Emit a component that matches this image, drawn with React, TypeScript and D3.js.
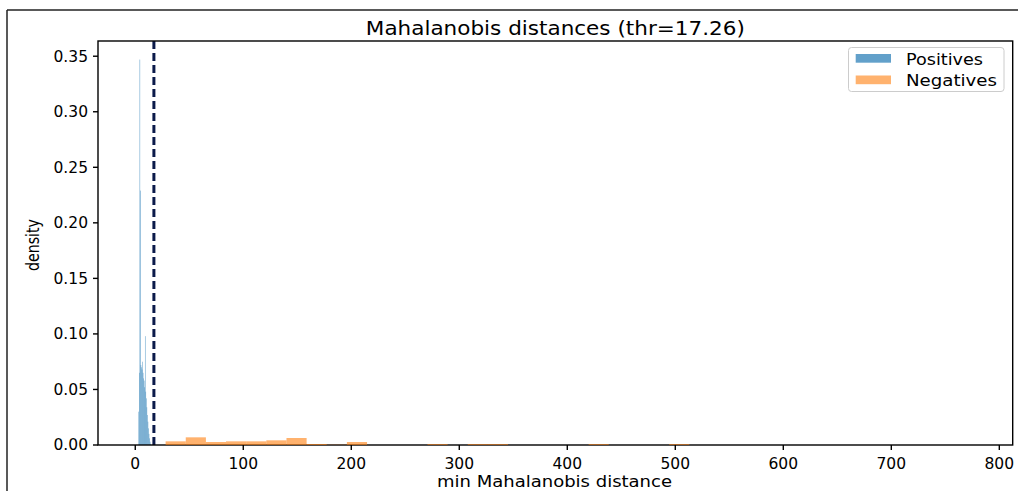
import React from "react";
import * as d3 from "d3";

const W = 1018;
const H = 491;

const title = "Mahalanobis distances (thr=17.26)";
const xLabel = "min Mahalanobis distance";
const yLabel = "density";
const threshold = 17.26;

const xTicks = [0, 100, 200, 300, 400, 500, 600, 700, 800];
const yTicks = [0, 0.05, 0.1, 0.15, 0.2, 0.25, 0.3, 0.35];

// Positives: fine bins (width 0.5) starting at 3.0
const posStart = 3.0;
const posWidth = 0.5;
const posDensity = [
  0.03, 0.065, 0.347, 0.229, 0.072, 0.07, 0.068, 0.075, 0.065, 0.06, 0.058, 0.052,
  0.098, 0.048, 0.042, 0.034, 0.027, 0.021, 0.015, 0.01, 0.006, 0.003, 0.001,
];

// Negatives: 40 bins of width 18.65 starting at 28.1
const negStart = 28.1;
const negWidth = 18.65;
const negDensity = [
  0.0033, 0.0069, 0.0027, 0.0033, 0.0033, 0.0042, 0.0063, 0.0009, 0.0002, 0.0027,
  0, 0, 0, 0.0008, 0, 0.0008, 0.0008, 0, 0, 0,
  0, 0.0008, 0, 0, 0, 0.0008, 0, 0, 0, 0,
  0, 0, 0, 0, 0, 0, 0, 0, 0, 0,
];

const xDomain = [-34.5, 812.4];
const yDomain = [0, 0.3637];

const plot = { left: 98, right: 1012.7, top: 41, bottom: 445 };
const FONT = "DejaVu Sans, sans-serif";
const BLUE = "#1f77b4";
const ORANGE = "#ff7f0e";

export default function App() {
  const x = d3.scaleLinear().domain(xDomain).range([plot.left, plot.right]);
  const y = d3.scaleLinear().domain(yDomain).range([plot.bottom, plot.top]);

  const posBars = posDensity.map((d, i) => {
    const x0 = posStart + i * posWidth;
    return { x0, x1: x0 + posWidth, d };
  });
  const negBars = negDensity.map((d, i) => {
    const x0 = negStart + i * negWidth;
    return { x0, x1: x0 + negWidth, d };
  });

  return (
    <svg
      width={W}
      height={H}
      style={{ position: "absolute", left: 0, top: 0, background: "#fff" }}
    >
      <rect x={0} y={0} width={W} height={H} fill="#fff" />
      {/* outer frame */}
      <line x1={7} y1={10} x2={W} y2={10} stroke="#222" strokeWidth={1.5} />
      <line x1={7} y1={10} x2={7} y2={H} stroke="#222" strokeWidth={1.5} />

      {/* title */}
      <text
        x={(plot.left + plot.right) / 2}
        y={35}
        textAnchor="middle"
        fontFamily={FONT}
        fontSize={19}
        textLength={379}
        lengthAdjust="spacingAndGlyphs"
        fill="#000"
      >
        {title}
      </text>

      {/* bars */}
      {posBars.map((b, i) => (
        <rect
          key={"p" + i}
          x={x(b.x0)}
          width={x(b.x1) - x(b.x0)}
          y={y(b.d)}
          height={y(0) - y(b.d)}
          fill={BLUE}
          fillOpacity={0.7}
        />
      ))}

      {/* threshold */}
      <line
        x1={x(threshold)}
        x2={x(threshold)}
        y1={plot.top}
        y2={plot.bottom}
        stroke="#0b1a4a"
        strokeWidth={3}
        strokeDasharray="8,4"
      />

      {/* spines */}
      <rect
        x={plot.left}
        y={plot.top}
        width={plot.right - plot.left}
        height={plot.bottom - plot.top}
        fill="none"
        stroke="#000"
        strokeWidth={1.4}
      />

      {negBars
        .filter((b) => b.d > 0)
        .map((b, i) => (
          <rect
            key={"n" + i}
            x={x(b.x0)}
            width={x(b.x1) - x(b.x0)}
            y={y(b.d)}
            height={y(0) - y(b.d)}
            fill={ORANGE}
            fillOpacity={0.6}
          />
        ))}

      {/* x ticks */}
      {xTicks.map((t) => (
        <g key={"xt" + t} transform={`translate(${x(t)},${plot.bottom})`}>
          <line y1={0} y2={5} stroke="#000" strokeWidth={1.4} />
          <text
            y={24}
            textAnchor="middle"
            fontFamily={FONT}
            fontSize={15.5}
            fill="#000"
          >
            {t}
          </text>
        </g>
      ))}
      {/* y ticks */}
      {yTicks.map((t) => (
        <g key={"yt" + t} transform={`translate(${plot.left},${y(t)})`}>
          <line x1={0} x2={-5} stroke="#000" strokeWidth={1.4} />
          <text
            x={-10}
            dy="0.35em"
            textAnchor="end"
            fontFamily={FONT}
            fontSize={15.5}
            fill="#000"
          >
            {t.toFixed(2)}
          </text>
        </g>
      ))}

      {/* axis labels */}
      <text
        x={554.5}
        y={487}
        textAnchor="middle"
        fontFamily={FONT}
        fontSize={16}
        textLength={235}
        lengthAdjust="spacingAndGlyphs"
        fill="#000"
      >
        {xLabel}
      </text>
      <text
        transform={`translate(39,245) rotate(-90)`}
        textAnchor="middle"
        fontFamily={FONT}
        fontSize={17}
        textLength={52}
        lengthAdjust="spacingAndGlyphs"
        fill="#000"
      >
        {yLabel}
      </text>

      {/* legend */}
      <g>
        <rect
          x={848.5}
          y={47.5}
          width={155.5}
          height={44}
          rx={3}
          fill="#fff"
          fillOpacity={0.8}
          stroke="#ccc"
          strokeWidth={1}
        />
        <rect x={855.7} y={54} width={35.3} height={8.7} fill={BLUE} fillOpacity={0.7} />
        <text
          x={906}
          y={64.5}
          fontFamily={FONT}
          fontSize={16}
          textLength={77}
          lengthAdjust="spacingAndGlyphs"
          fill="#000"
        >
          Positives
        </text>
        <rect x={855.7} y={75.5} width={35.3} height={8.7} fill={ORANGE} fillOpacity={0.6} />
        <text
          x={906}
          y={85.5}
          fontFamily={FONT}
          fontSize={16}
          textLength={91}
          lengthAdjust="spacingAndGlyphs"
          fill="#000"
        >
          Negatives
        </text>
      </g>
    </svg>
  );
}
